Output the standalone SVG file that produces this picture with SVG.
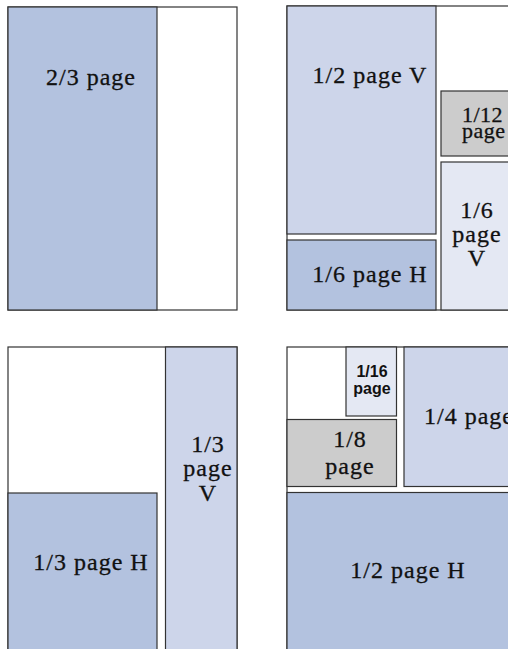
<svg xmlns="http://www.w3.org/2000/svg" width="508" height="649" viewBox="0 0 508 649">
<style>
.box{stroke:#333;stroke-width:1.2}
.w{fill:#ffffff}
.b1{fill:#b3c2df}
.b2{fill:#cdd5ea}
.b3{fill:#e4e8f3}
.g{fill:#cccccc}
.t{font-family:"Liberation Serif","Times New Roman",serif;font-size:24px;letter-spacing:1px;fill:#111;stroke:#111;stroke-width:0.3}
.s{font-family:"Liberation Sans",Arial,sans-serif;font-size:16px;font-weight:bold;fill:#111}
</style>
<rect width="508" height="649" fill="#ffffff"/>
<g id="panel1">
  <rect class="box w" x="8" y="7" width="229" height="303"/>
  <g id="p1-two-thirds">
    <rect class="box b1" x="8" y="7" width="149" height="303"/>
    <text class="t" x="91" y="85" text-anchor="middle">2/3 page</text>
  </g>
</g>
<g id="panel2">
  <rect class="box w" x="287" y="6" width="240" height="304"/>
  <g id="p2-half-v">
    <rect class="box b2" x="287" y="6" width="149" height="228"/>
    <text class="t" x="370" y="83" text-anchor="middle">1/2 page V</text>
  </g>
  <g id="p2-sixth-h">
    <rect class="box b1" x="287" y="240" width="149" height="70"/>
    <text class="t" x="370" y="282" text-anchor="middle">1/6 page H</text>
  </g>
  <g id="p2-twelfth">
    <rect class="box g" x="441" y="91" width="86" height="65"/>
    <text class="t" x="462" y="122" style="font-size:22px;letter-spacing:0.5px">1/12</text>
    <text class="t" x="462" y="138" style="font-size:22px;letter-spacing:0.5px">page</text>
  </g>
  <g id="p2-sixth-v">
    <rect class="box b3" x="441" y="162" width="86" height="148"/>
    <text class="t" x="477" y="218" text-anchor="middle">1/6</text>
    <text class="t" x="477" y="242" text-anchor="middle">page</text>
    <text class="t" x="477" y="266" text-anchor="middle">V</text>
  </g>
</g>
<g id="panel3">
  <rect class="box w" x="8" y="347" width="229" height="310"/>
  <g id="p3-third-h">
    <rect class="box b1" x="8" y="493" width="149" height="164"/>
    <text class="t" x="91" y="570" text-anchor="middle">1/3 page H</text>
  </g>
  <g id="p3-third-v">
    <rect class="box b2" x="165.5" y="347" width="71.5" height="310"/>
    <text class="t" x="208" y="452" text-anchor="middle">1/3</text>
    <text class="t" x="208" y="476" text-anchor="middle">page</text>
    <text class="t" x="208" y="501" text-anchor="middle">V</text>
  </g>
</g>
<g id="panel4">
  <rect class="box w" x="287" y="347" width="240" height="310"/>
  <g id="p4-sixteenth">
    <rect class="box b3" x="346" y="347" width="50.5" height="69"/>
    <text class="s" x="372" y="377" text-anchor="middle">1/16</text>
    <text class="s" x="372" y="394" text-anchor="middle">page</text>
  </g>
  <g id="p4-eighth">
    <rect class="box g" x="287" y="419.5" width="109.5" height="67"/>
    <text class="t" x="350" y="447" text-anchor="middle">1/8</text>
    <text class="t" x="350" y="474" text-anchor="middle">page</text>
  </g>
  <g id="p4-quarter">
    <rect class="box b2" x="404" y="347" width="123" height="139.5"/>
    <text class="t" x="424" y="424">1/4 page</text>
  </g>
  <g id="p4-half-h">
    <rect class="box b1" x="287" y="492.5" width="240" height="164"/>
    <text class="t" x="408" y="578" text-anchor="middle">1/2 page H</text>
  </g>
</g>
</svg>
